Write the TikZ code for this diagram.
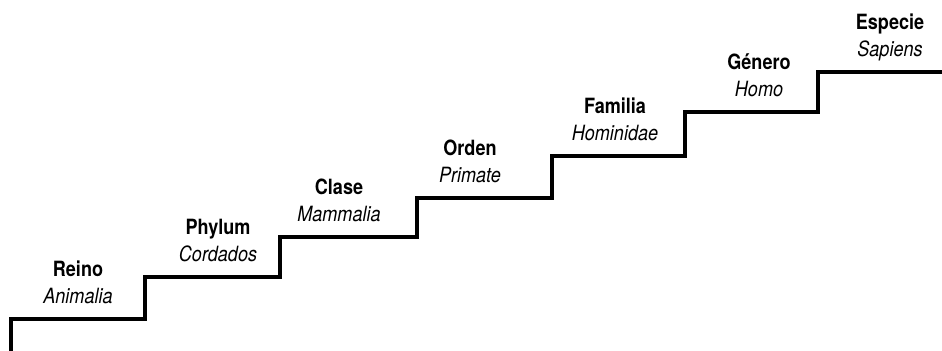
\documentclass[tikz,border=0pt]{standalone}
\usepackage{fontspec}
\setmainfont[FakeStretch=0.86]{TeX Gyre Heros}
\usetikzlibrary{positioning}
\begin{document}
\begin{tikzpicture}[x=0.5pt,y=-0.5pt]
	\tikzstyle{rank}=[font=\fontsize{10.5}{12}\selectfont\bfseries, inner sep=0pt]
	\tikzstyle{taxon}=[font=\fontsize{10.5}{12}\selectfont\itshape, inner sep=0pt, anchor=base]
	\tikzstyle{stair}=[line width=1.9pt, line join=miter]

	\useasboundingbox (0,0) rectangle (942,351);

	% the stairs, one step per rank
	\draw[stair] (11,351) |- (145,319) |- (280,277) |- (417,237) |- (552,198)
		|- (685,156) |- (818,112) |- (942,72);

	\node[taxon] (animalia) at (78,304) {Animalia};
	\node[rank] (reino) [above=13.5pt of animalia.base, anchor=base] {Reino};

	\node[taxon] (cordados) at (218,262) {Cordados};
	\node[rank] (phylum) [above=13.5pt of cordados.base, anchor=base] {Phylum};

	\node[taxon] (mammalia) at (339,222) {Mammalia};
	\node[rank] (clase) [above=13.5pt of mammalia.base, anchor=base] {Clase};

	\node[taxon] (primate) at (470,183) {Primate};
	\node[rank] (orden) [above=13.5pt of primate.base, anchor=base] {Orden};

	\node[taxon] (hominidae) at (615,141) {Hominidae};
	\node[rank] (familia) [above=13.5pt of hominidae.base, anchor=base] {Familia};

	\node[taxon] (homo) at (759,97) {Homo};
	\node[rank] (genero) [above=13.5pt of homo.base, anchor=base] {Género};

	\node[taxon] (sapiens) at (890,57) {Sapiens};
	\node[rank] (especie) [above=13.5pt of sapiens.base, anchor=base] {Especie};
\end{tikzpicture}
\end{document}
